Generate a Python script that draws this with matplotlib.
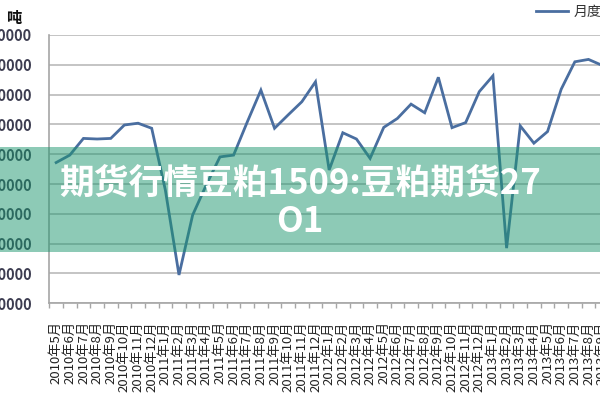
import numpy as np
import matplotlib
matplotlib.use('Agg')
import matplotlib.pyplot as plt
from matplotlib.patches import Rectangle

plt.rcParams['font.family'] = ['Noto Sans CJK SC', 'DejaVu Sans']

# 月份标签 2010年5月 ~ 2013年9月
months = [f'{y}年{m}月' for y in range(2010, 2014) for m in range(1, 13)]
months = months[4:45]

# 月度数值（吨）
values = [57200, 59700, 65300, 65100, 65300, 69800, 70400, 68700, 48000, 19500,
          39600, 49700, 59100, 59700, 70800, 81500, 68700, 73200, 77600, 84300,
          54700, 67200, 65100, 58600, 69000, 72000, 76800, 73900, 85800, 68900,
          70600, 81000, 86300, 28500, 69500, 63700, 67600, 81800, 91000, 91800,
          89800]

yticks = list(range(10000, 100001, 10000))
series_name = '月度出口量'
overlay_line1 = '期货行情豆粕1509:豆粕期货27'
overlay_line2 = 'O1'

fig = plt.figure(figsize=(6, 4), dpi=100)
ax = fig.add_axes([0.0822, 0.2418, 0.9555, 0.6708])

x = np.arange(len(values))
line, = ax.plot(x, values, color='#4a6ea0', linewidth=2.0, label=series_name,
                solid_joinstyle='miter')

ax.set_xlim(-0.5, 41.5)
ax.set_ylim(10000, 100000)
ax.set_yticks(yticks)
ax.set_yticklabels([str(v) for v in yticks])
ax.grid(axis='y', color='#bfbfbf', linewidth=1.3)
ax.set_axisbelow(True)

ax.set_xticks(x)
ax.set_xticklabels(months, rotation=90, fontsize=9.5, color='#222222')
ax.set_xticks(np.arange(len(values) + 1) - 0.5, minor=True)
ax.tick_params(axis='x', which='major', length=0, pad=13)
ax.tick_params(axis='x', which='minor', length=3.5, color='#a6a6a6', width=1)
ax.tick_params(axis='y', length=0, pad=12.5, labelsize=10.5, labelcolor='#3c3c50')
for lbl in ax.get_yticklabels():
    lbl.set_fontweight('bold')

for s in ['top', 'right']:
    ax.spines[s].set_visible(False)
for s in ['left', 'bottom']:
    ax.spines[s].set_color('#a6a6a6')
    ax.spines[s].set_linewidth(1.2)

fig.text(13.5 / 600, 1 - 18.5 / 400, '吨', fontsize=11, fontweight='bold',
         ha='center', va='center', color='#111111')

fig.legend(handles=[line], labels=[series_name], loc='center left',
           bbox_to_anchor=(536 / 600, 1 - 12 / 400), frameon=False,
           handlelength=2.3, handletextpad=0.4, borderaxespad=0, borderpad=0,
           prop={'size': 10}, labelcolor='#333333')

# 半透明绿色水印条
band_top, band_bot = 147.3, 251.7
fig.patches.append(Rectangle((0, 1 - band_bot / 400), 1, (band_bot - band_top) / 400,
                             transform=fig.transFigure, facecolor='#1c966e',
                             alpha=0.5, edgecolor='none', zorder=10))
fig.text(0.5, 1 - 183.5 / 400, overlay_line1, fontsize=25, fontweight='bold',
         color='white', ha='center', va='center', zorder=11)
fig.text(0.5, 1 - 221 / 400, overlay_line2, fontsize=25, fontweight='bold',
         color='white', ha='center', va='center', zorder=11)

fig.savefig('out.png', dpi=100)
